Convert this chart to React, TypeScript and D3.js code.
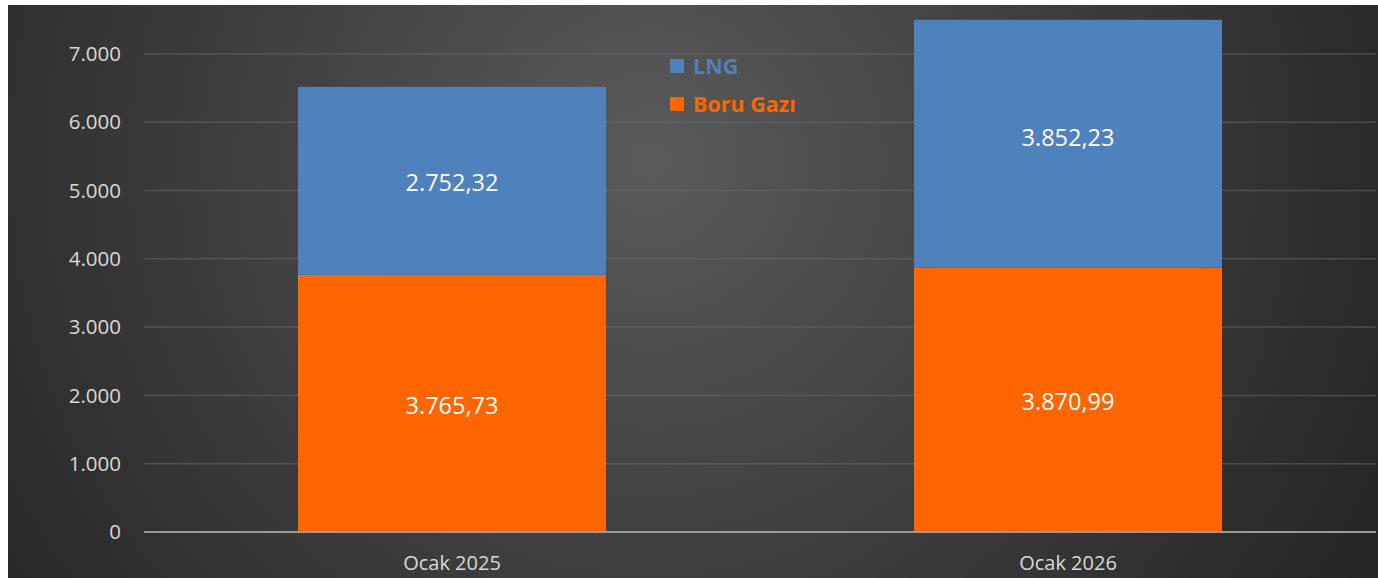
import React from "react";
import * as d3 from "d3";

const categories = ["Ocak 2025", "Ocak 2026"];
const boruGazi = [3765.73, 3870.99];
const lng = [2752.32, 3852.23];
const yTicks = [0, 1000, 2000, 3000, 4000, 5000, 6000, 7000];
const seriesNames = ["LNG", "Boru Gazı"];

const W = 1378;
const H = 578;
const BLUE = "#4f81bd";
const ORANGE = "#ff6600";
const FONT = "'Open Sans', 'Noto Sans', sans-serif";

const fmtTick = (v: number) => (v === 0 ? "0" : d3.format(",")(v).replace(/,/g, "."));
const fmtVal = (v: number) => {
  const [i, d] = v.toFixed(2).split(".");
  return d3.format(",")(+i).replace(/,/g, ".") + "," + d;
};

export default function App() {
  const x0 = 144, x1 = 1376, yTop = 19.8, yBot = 532;
  const x = d3.scaleBand<string>().domain(categories).range([x0, x1]).paddingInner(0.5).paddingOuter(0.25);
  const y = d3.scaleLinear().domain([0, 7500]).range([yBot, yTop]);
  const clip = (v: number) => Math.max(y(v), yTop);

  return (
    <svg width={W} height={H} style={{ position: "absolute", left: 0, top: 0 }}>
      <defs>
        <radialGradient id="bg" cx="650" cy="160" r="820" gradientUnits="userSpaceOnUse">
          <stop offset="0" stopColor="#5a5a5a" />
          <stop offset="0.55" stopColor="#3c3c3c" />
          <stop offset="1" stopColor="#252525" />
        </radialGradient>
      </defs>
      <rect x={0} y={0} width={W} height={H} fill="#ffffff" />
      <rect x={8} y={5} width={W - 8} height={H - 5} fill="url(#bg)" />
      {yTicks.filter((t) => t > 0).map((t) => (
        <line key={t} x1={x0} x2={x1} y1={y(t)} y2={y(t)} stroke="#6a6a6a" strokeOpacity={0.55} strokeWidth={1.5} />
      ))}
      {yTicks.map((t) => (
        <text key={"l" + t} x={121} y={y(t)} dy="0.35em" textAnchor="end" fill="#d9d9d9" fontSize={20.5} fontFamily={FONT}>
          {fmtTick(t)}
        </text>
      ))}
      {categories.map((c, i) => {
        const bx = x(c)!;
        const bw = x.bandwidth();
        const yO = y(boruGazi[i]);
        const yLfull = y(boruGazi[i] + lng[i]);
        const yL = clip(boruGazi[i] + lng[i]);
        return (
          <g key={c}>
            <rect x={bx} y={yO} width={bw} height={yBot - yO} fill={ORANGE} />
            <rect x={bx} y={yL} width={bw} height={yO - yL} fill={BLUE} />
            <text x={bx + bw / 2} y={(yO + yBot) / 2 + 2} dy="0.35em" textAnchor="middle" fill="#ffffff" fontSize={23.5} fontFamily={FONT}>
              {fmtVal(boruGazi[i])}
            </text>
            <text x={bx + bw / 2} y={(yLfull + yO) / 2 + 2} dy="0.35em" textAnchor="middle" fill="#ffffff" fontSize={23.5} fontFamily={FONT}>
              {fmtVal(lng[i])}
            </text>
            <text x={bx + bw / 2} y={563} dy="0.35em" textAnchor="middle" fill="#d9d9d9" fontSize={20} fontFamily={FONT}>
              {c}
            </text>
          </g>
        );
      })}
      <line x1={x0} x2={x1} y1={yBot} y2={yBot} stroke="#9a9a9a" strokeWidth={2} />
      {seriesNames.map((s, i) => (
        <g key={s} transform={`translate(670, ${66 + i * 38})`}>
          <rect x={0} y={-7} width={14} height={14} fill={i === 0 ? BLUE : ORANGE} />
          <text x={23} y={0} dy="0.35em" fill={i === 0 ? BLUE : ORANGE} fontSize={21.5} fontWeight="bold" fontFamily={FONT}>
            {s}
          </text>
        </g>
      ))}
    </svg>
  );
}
